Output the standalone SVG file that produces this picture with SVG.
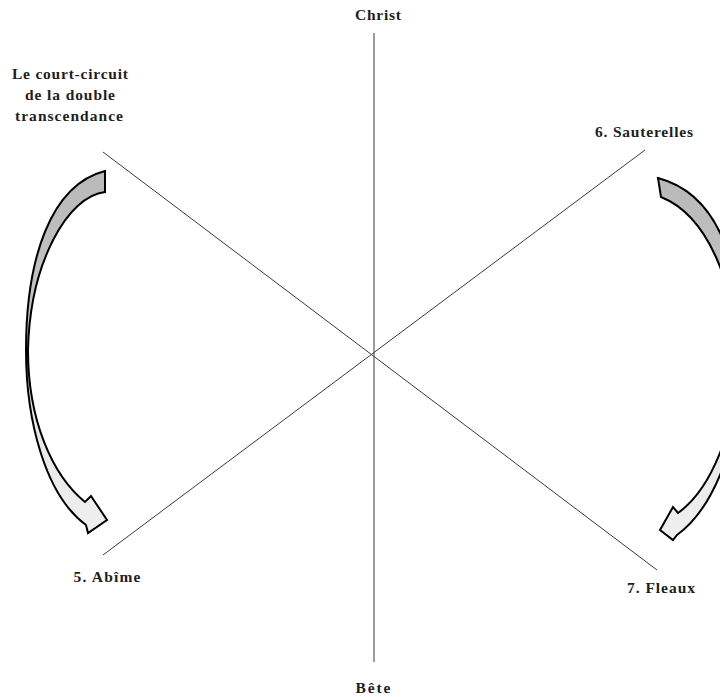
<svg xmlns="http://www.w3.org/2000/svg" width="720" height="697" viewBox="0 0 720 697">
  <style>
    .lbl { font-family: "Liberation Serif", "DejaVu Serif", serif; font-weight: bold; font-size: 15.5px; fill: #1e1e1e; text-anchor: middle; }
    .axis { stroke: #3a3a3a; stroke-width: 1; fill: none; }
    .curved { stroke: #000; stroke-width: 2; stroke-linejoin: miter; }
  </style>
  <defs>
    <linearGradient id="gradL" x1="0" y1="0" x2="0" y2="1">
      <stop offset="0" stop-color="#b9b9b9"/>
      <stop offset="0.4" stop-color="#c4c4c4"/>
      <stop offset="0.65" stop-color="#e6e6e6"/>
      <stop offset="1" stop-color="#efefef"/>
    </linearGradient>
  </defs>
  <rect width="720" height="697" fill="#ffffff"/>

  <g id="connectors">
    <line class="axis" x1="374" y1="33" x2="374" y2="662"/>
    <line class="axis" x1="103" y1="152" x2="657" y2="570"/>
    <line class="axis" x1="103" y1="555" x2="645" y2="150"/>
  </g>

  <g id="arrows">
    <path id="arrow-left" class="curved" fill="url(#gradL)" d="M105,171 L105,192 C68,196 30,262 28,350 C28,420 52,475 85,502 L91,496 L107,520 L88,533 L86,525 C45,495 26,420 26,350 C26,260 50,185 105,171 Z"/>
    <path id="arrow-right" class="curved" fill="url(#gradL)" d="M658,178 L661,197 C706,215 735,280 737,360 C737,430 710,490 678,513 L673,507 L660,530 L673,540 L677,535 C718,505 742,430 742,360 C742,270 722,195 658,178 Z"/>
  </g>

  <g id="node-christ"><text class="lbl" x="378" y="20" textLength="46">Christ</text></g>
  <g id="node-bete"><text class="lbl" x="373" y="693" textLength="35">Bête</text></g>
  <g id="node-court-circuit">
    <text class="lbl" x="70" y="79" textLength="116">Le court-circuit</text>
    <text class="lbl" x="70" y="100" textLength="90">de la double</text>
    <text class="lbl" x="69" y="121" textLength="108">transcendance</text>
  </g>
  <g id="node-sauterelles"><text class="lbl" x="644" y="137" textLength="98">6. Sauterelles</text></g>
  <g id="node-abime"><text class="lbl" x="107" y="582" textLength="67">5. Abîme</text></g>
  <g id="node-fleaux"><text class="lbl" x="661" y="593" textLength="68">7. Fleaux</text></g>
</svg>
